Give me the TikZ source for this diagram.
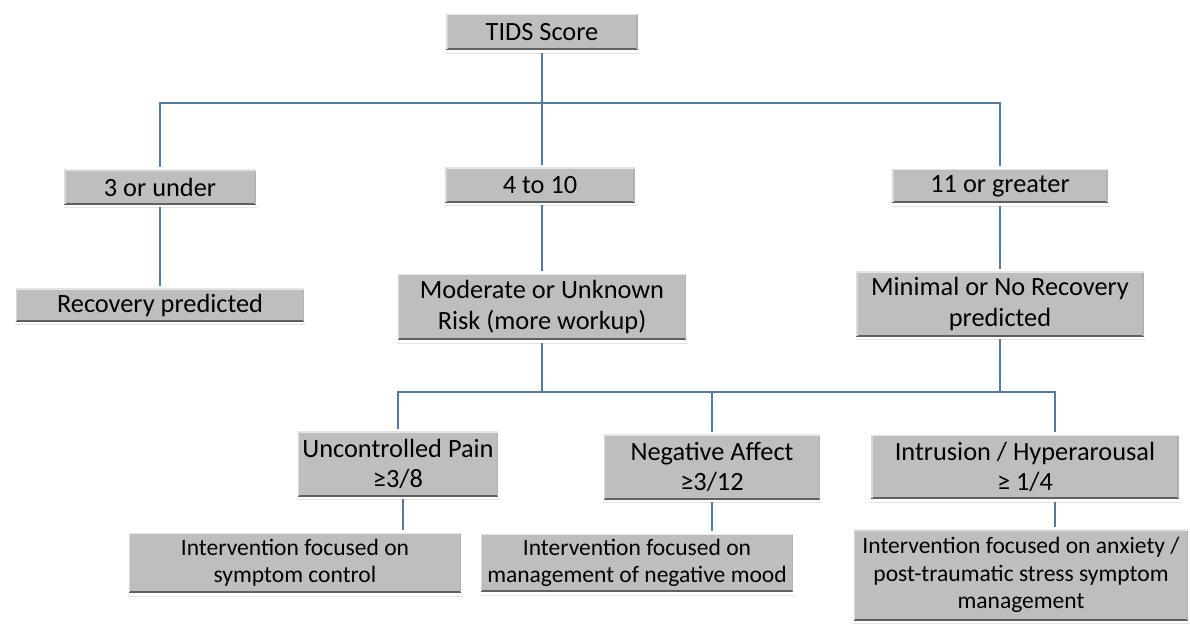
\documentclass[tikz,border=0pt]{standalone}
\usepackage{fontspec}
\setmainfont{Carlito}
\usetikzlibrary{shadows}
\definecolor{boxgray}{RGB}{190,190,190}
\definecolor{linkblue}{RGB}{84,122,160}

\begin{document}
\begin{tikzpicture}[x=0.02cm,y=-0.02cm,
    boxsize/.style 2 args={minimum width=#1*0.02cm, minimum height=#2*0.02cm},
    box/.style={draw=white, line width=1.4pt, fill=boxgray, align=center, inner sep=0pt,
      font=\fontsize{15}{17.5}\selectfont,
      drop shadow={opacity=0.22, shadow xshift=0.4pt, shadow yshift=-1.2pt},
      path picture={
        \draw[gray!75!black, line width=1.3pt]
          ([xshift=0.7pt,yshift=1.3pt]path picture bounding box.south west) -- ([xshift=-0.7pt,yshift=1.3pt]path picture bounding box.south east);
        \draw[gray!60, line width=1pt]
          ([xshift=-1.2pt,yshift=1.3pt]path picture bounding box.south east) -- ([xshift=-1.2pt,yshift=-0.7pt]path picture bounding box.north east);
        \draw[gray!20, line width=1pt]
          ([xshift=0.7pt,yshift=-1.1pt]path picture bounding box.north west) -- ([xshift=-0.7pt,yshift=-1.1pt]path picture bounding box.north east);
        \draw[gray!30, line width=0.8pt]
          ([xshift=1.1pt,yshift=1.3pt]path picture bounding box.south west) -- ([xshift=1.1pt,yshift=-0.7pt]path picture bounding box.north west);}},
    smallbox/.style={box, font=\fontsize{13.4}{15.6}\selectfont},
    link/.style={draw=linkblue, line width=0.6pt}]
    \useasboundingbox (0,0) rectangle (1190,626);
    % boxes
    \node[box, boxsize={194}{39}] (tids) at (542,32) {TIDS Score};
    \node[box, boxsize={194}{38}] (low) at (160,187) {3 or under};
    \node[box, boxsize={192}{38}] (mid) at (540,185) {4 to 10};
    \node[box, boxsize={218}{37}] (high) at (1000,186) {11 or greater};
    \node[box, boxsize={291}{36}] (rec) at (160,305) {Recovery predicted};
    \node[box, boxsize={291}{69}] (mod) at (542,307) {Moderate or Unknown\\Risk (more workup)};
    \node[box, boxsize={290}{68}] (norec) at (1000,304) {Minimal or No Recovery\\predicted};
    \node[box, boxsize={203}{68}] (pain) at (398,464) {Uncontrolled Pain\\≥3/8};
    \node[box, boxsize={219}{68}] (affect) at (712,467) {Negative Affect\\≥3/12};
    \node[box, boxsize={310}{67}] (intr) at (1025,467) {Intrusion / Hyperarousal\\≥ 1/4};
    \node[smallbox, boxsize={335}{63}] (ctrl) at (295,563) {Intervention focused on\\symptom control};
    \node[smallbox, boxsize={315}{61}] (mood) at (637,563) {Intervention focused on\\management of negative mood};
    \node[smallbox, boxsize={337}{94}] (anx) at (1021,575) {Intervention focused on anxiety /\\post-traumatic stress symptom\\management};
    % upper tree
    \coordinate (top) at (542,103);
    \draw[link] (tids.south) -- (top);
    \draw[link] (low.north) |- (high.north |- top) -- (high.north);
    \draw[link] (top) -- (top |- mid.north);
    \draw[link] (low.south) -- (rec.north);
    \draw[link] (mod.north |- mid.south) -- (mod.north);
    \draw[link] (high.south) -- (norec.north);
    % lower tree
    \coordinate (jr) at (1055,392);
    \draw[link] (mod.south) -- (mod.south |- jr);
    \draw[link] (norec.south) -- (norec.south |- jr);
    \draw[link] (pain.north) |- (jr) -- (jr |- intr.north);
    \draw[link] (affect.north) -- (affect.north |- jr);
    \draw[link] ([xshift=0.1cm]pain.south) -- ([xshift=0.1cm]pain.south |- ctrl.north);
    \draw[link] (affect.south) -- (affect.south |- mood.north);
    \draw[link] (jr |- intr.south) -- (jr |- anx.north);
\end{tikzpicture}
\end{document}
